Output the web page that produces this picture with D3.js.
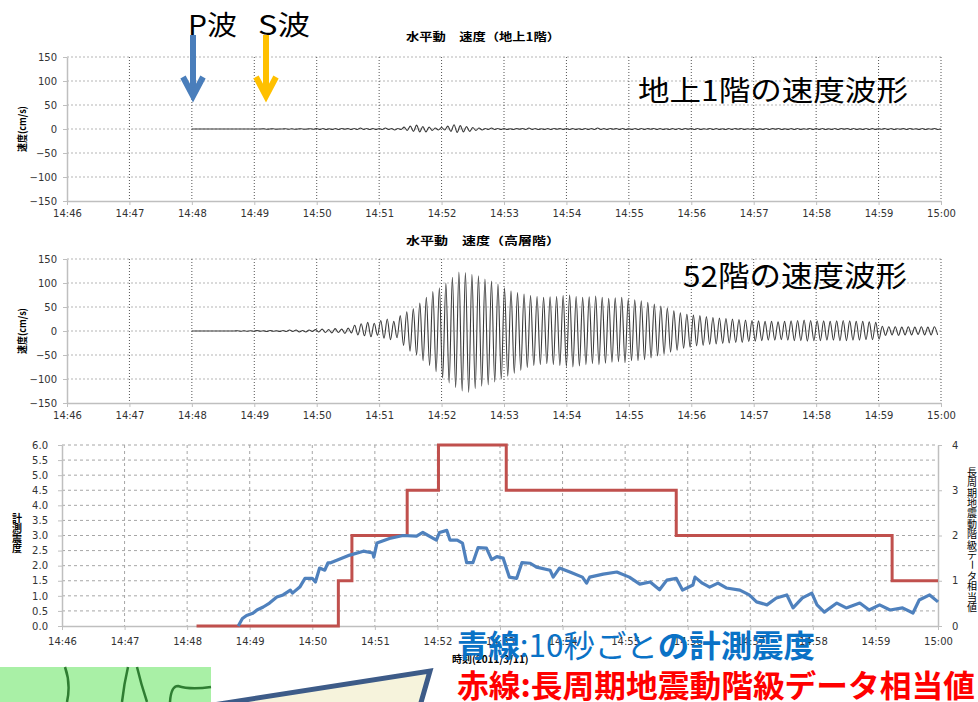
<!DOCTYPE html>
<html>
<head>
<meta charset="utf-8">
<script src="https://cdn.jsdelivr.net/npm/d3@7"></script>
<style>
  body { margin: 0; background: #fff; }
  svg { display: block; font-family: "DejaVu Sans", sans-serif; }
  .jp { font-family: "Noto Sans CJK JP", sans-serif; }
</style>
</head>
<body>
<svg id="chart" width="978" height="702"></svg>
<script>
// ---------- data ----------
const day = '2011-03-11';
const velTicks = [-150, -100, -50, 0, 50, 100, 150];

// 1F horizontal velocity (cm/s), one sample every 3 s from 14:48:00
const vel1FStart = '14:48:00';
const vel1FStep = 3;
const vel1F = [
  0, 0, 0, 0, 0, 0, 0, 0, 0, 0, 0, 0, 0, 0, 0, 0, 0, 0, 0, 0,
  0, 0, 0, 0.5, -0.5, 0, 0.5, -0.5, 0, 0, 0.5, -0.5, 0.5, -0.5, 0, 0.5, -0.5, 0, 0.5, -0.5,
  1, -1, 1, -1, 0.5, -1, 1, -1, 1, -0.5, 1, -1, 1, -1, 2, -1, 1, -1, 1, -1,
  1, -1, 2, -1, 1, -2, 1, -1, 4, -3, 6, -5, 8, -6, 5, -6, 4, -3, 2, -2,
  3, -2, 6, -5, 9, -7, 7, -6, 5, -5, 3, -3, 2, -2, 1, -1, 2, -1, 1, -1,
  1, -1, 0.5, -1, 1, -0.5, 1, -1, 2, -1, 1, -1, 0.5, -1, 1, -1, 1, -0.5, 1, -1,
  1, -1, 1, -1, 0.5, -1, 1, -1, 1, -1, 2, -1, 1, -1, 1, -0.5, 1, -1, 1, -1,
  0.5, -1, 1, -1, 1, -1, 1, -0.5, 1, -1, 1, -1, 0.5, -1, 1, -1, 1, -1, 1, -0.5,
  1, -1, 1, -1, 0.5, -0.5, 1, -1, 1, -1, 0.5, -1, 1, -1, 1, -0.5, 1, -1, 0.5, -0.5,
  1, -1, 0.5, -1, 1, -1, 1, -0.5, 1, -1, 0.5, -1, 1, -1, 1, -1, 0.5, -0.5, 1, -1,
  1, -1, 1, -1, 0.5, -1, 1, -1, 1, -0.5, 1, -1, 1, -1, 0.5, -1, 1, -1, 1, -1,
  0.5, -0.5, 1, -1, 1, -1, 0.5, -0.5, 1, -1, 1, -0.5, 0.5, -1, 1, -1, 0.5, -0.5, 1, -1,
  0
];

// 52F horizontal velocity (cm/s), peaks and troughs, one every 3.13 s from 14:48:00
const vel52Start = '14:48:00';
const vel52Step = 3.13;
const vel52 = [
  0, 0, 0, 0, 0, 0, 0, 0, 0, 0, 0, 0, 0, 0, 0.5, -0.5, 0.5, -0.5, 0.5, -0.5, 1, -0.5, 0.5, -1, 1, -0.5, 0.5, -1,
  1, -1, 2, -1, 2, -2, 1, -2, 2, -1,
  3, -2, 4, -3, 3, -4, 5, -3, 4, -5, 6, -4,
  12, -8, 15, -10, 18, -12, 16, -9,
  22, -15, 25, -18, 20, -14,
  32, -30, 40, -42, 46, -50,
  58, -62, 70, -72, 82, -85, 90, -98,
  100, -108, 112, -118, 123, -125, 122, -128, 118, -120,
  115, -115, 108, -112, 104, -106, 98, -100, 90, -94,
  84, -88, 80, -82, 77, -76, 74, -72, 72, -70,
  70, -68, 71, -70, 72, -72, 74, -74, 75, -75, 72, -73, 70, -70, 71, -68, 73, -70, 70, -67, 68, -65, 69, -64, 70, -66, 66, -62,
  65, -62, 63, -60, 60, -56, 56, -52, 52, -48,
  48, -44, 42, -40, 38, -36, 35, -34, 33, -31,
  32, -30, 30, -28, 28, -27, 27, -26, 26, -25, 25, -24, 24, -24, 23, -22, 22, -21,
  21, -20, 20, -19, 20, -19, 19, -18, 20, -19, 21, -20, 22, -20, 23, -21, 22, -20, 21, -20,
  21, -19, 20, -19, 21, -20, 22, -20, 21, -19, 20, -19, 20, -18, 19, -18, 18, -17,
  10, -9, 9, -8, 9, -9, 8, -8, 9, -8, 8, -7, 9, -8, 8, -8, 9, -8
];

// measured seismic intensity (10 s values): seconds after 14:46:00, value
const intensitySec = [
  169, 173, 177, 183, 187, 193, 199, 206, 212, 219, 221, 228, 233, 240, 243, 247, 252, 255,
  257, 276, 289, 298, 299, 302, 314, 327, 340, 346, 359, 362, 369, 372, 379, 384, 388, 394,
  399, 407, 412, 417, 423, 429, 436, 441, 449, 455, 468, 471, 477, 487, 499, 503, 506, 519,
  532, 544, 554, 564, 573, 580, 589, 595, 605, 607, 614, 621, 629, 637, 650, 659, 666, 676,
  685, 695, 701, 710, 719, 724, 731, 743, 752, 765, 774, 784, 794, 806, 816, 822, 832, 840
];
const intensityValues = [
  0, 0.25, 0.35, 0.42, 0.53, 0.63, 0.76, 0.96, 1.03, 1.19, 1.09, 1.29, 1.58, 1.58, 1.46, 1.92, 1.85, 2.09,
  2.09, 2.35, 2.48, 2.42, 2.28, 2.75, 2.9, 3.0, 2.98, 3.1, 2.85, 3.1, 3.17, 2.85, 2.85, 2.75, 2.1, 2.1,
  2.6, 2.58, 2.2, 2.3, 2.25, 1.62, 1.58, 2.1, 2.08, 1.95, 1.85, 1.62, 1.92, 1.79, 1.62, 1.42, 1.62, 1.72,
  1.79, 1.62, 1.39, 1.46, 1.2, 1.52, 1.58, 1.19, 1.36, 1.62, 1.42, 1.29, 1.42, 1.26, 1.19, 1.03, 0.8, 0.7,
  0.93, 1.03, 0.6, 0.93, 1.09, 0.7, 0.46, 0.76, 0.6, 0.76, 0.53, 0.7, 0.53, 0.6, 0.43, 0.86, 1.03, 0.8
];

// long-period ground motion class (right axis)
const levelTimes = ['14:48:09', '14:50:25', '14:50:38', '14:51:31', '14:52:01', '14:53:06', '14:55:49', '14:59:16', '15:00:00'];
const levelValues = [0, 1, 2, 3, 4, 3, 2, 1, 1];

const intensityTicks = [0, 0.5, 1, 1.5, 2, 2.5, 3, 3.5, 4, 4.5, 5, 5.5, 6];
const levelTicks = [0, 1, 2, 3, 4];

// ---------- helpers ----------
const parseTime = t => new Date(`${day}T${t}`);
const t0 = parseTime('14:46:00');
const t1 = parseTime('15:00:00');
const addSec = (d, s) => new Date(d.getTime() + s * 1000);
const fmt = d3.timeFormat('%H:%M');

const svg = d3.select('#chart');

function styleAxis(sel) {
  sel.attr('font-family', '"DejaVu Sans", sans-serif').attr('font-size', 10);
  sel.select('.domain').attr('stroke', '#bfbfbf').attr('stroke-width', 1.5);
  sel.selectAll('.tick line').attr('stroke', '#bfbfbf');
  sel.selectAll('.tick text').attr('fill', '#333');
}

// stacked (vertical) Japanese text, one glyph per line
function verticalText(g, str, x, yTop, step, size, weight) {
  const t = g.append('g').attr('class', 'jp')
    .style('font-size', size + 'px').style('font-weight', weight);
  Array.from(str).forEach((ch, i) => {
    const cy = yTop + step * (i + 0.5);
    const el = t.append('text')
      .attr('x', x).attr('y', cy)
      .attr('text-anchor', 'middle').attr('dominant-baseline', 'central')
      .text(ch);
    if (ch === 'ー') el.attr('transform', `rotate(90,${x},${cy})`);
  });
}

// ---------- velocity charts ----------
function velocityChart(cfg) {
  const left = 67, right = 941;
  const x = d3.scaleTime().domain([t0, t1]).range([left, right]);
  const y = d3.scaleLinear().domain([-150, 150]).range([cfg.bottom, cfg.top]);
  const g = svg.append('g');

  g.selectAll('.hgrid')
    .data(velTicks.filter(v => v > -150))
    .enter().append('line')
    .attr('x1', left).attr('x2', right)
    .attr('y1', d => y(d)).attr('y2', d => y(d))
    .attr('stroke', '#b5b5b5').attr('stroke-dasharray', '2,2');

  const minutes = d3.timeMinute.range(d3.timeMinute.offset(t0, 1), d3.timeMinute.offset(t1, 1));
  g.selectAll('.vgrid')
    .data(minutes)
    .enter().append('line')
    .attr('x1', d => x(d)).attr('x2', d => x(d))
    .attr('y1', cfg.top).attr('y2', cfg.bottom)
    .attr('stroke', '#555').attr('stroke-dasharray', '1,2');

  g.append('g')
    .attr('transform', `translate(0,${cfg.bottom})`)
    .call(d3.axisBottom(x).ticks(d3.timeMinute.every(1)).tickFormat(fmt).tickSize(4).tickSizeOuter(0).tickPadding(5))
    .call(styleAxis);

  g.append('g')
    .attr('transform', `translate(${left},0)`)
    .call(d3.axisLeft(y).tickValues(velTicks).tickSize(4).tickSizeOuter(0).tickPadding(6))
    .call(styleAxis);

  const start = parseTime(cfg.start);
  const pts = cfg.values.map((v, i) => ({ t: addSec(start, i * cfg.step), v }));
  g.append('path')
    .datum(pts)
    .attr('d', d3.line().x(d => x(d.t)).y(d => y(d.v)).curve(d3.curveMonotoneX))
    .attr('fill', 'none')
    .attr('stroke', '#3a3a3a')
    .attr('stroke-width', 1.1);

  g.append('text').attr('class', 'jp')
    .attr('x', 406).attr('y', cfg.titleY)
    .attr('textLength', 154).attr('lengthAdjust', 'spacingAndGlyphs')
    .style('font-size', '11px').style('font-weight', 'bold')
    .text(cfg.title);

  g.append('text').attr('class', 'jp')
    .attr('transform', `translate(26,${(cfg.top + cfg.bottom) / 2}) rotate(-90)`)
    .attr('text-anchor', 'middle')
    .attr('textLength', 46).attr('lengthAdjust', 'spacingAndGlyphs')
    .style('font-size', '10px').style('font-weight', 'bold')
    .text('速度(cm/s)');
}

velocityChart({ top: 57, bottom: 201, titleY: 41, title: '水平動　速度（地上1階）', values: vel1F, start: vel1FStart, step: vel1FStep });
velocityChart({ top: 259, bottom: 403, titleY: 245, title: '水平動　速度（高層階）', values: vel52, start: vel52Start, step: vel52Step });

// ---------- intensity chart ----------
{
  const left = 62, right = 938, top = 445, bottom = 626;
  const x = d3.scaleTime().domain([t0, t1]).range([left, right]);
  const y = d3.scaleLinear().domain([0, 6]).range([bottom, top]);
  const y2 = d3.scaleLinear().domain([0, 4]).range([bottom, top]);
  const g = svg.append('g');

  g.selectAll('.hgrid')
    .data(intensityTicks.filter(v => v > 0))
    .enter().append('line')
    .attr('x1', left).attr('x2', right)
    .attr('y1', d => y(d)).attr('y2', d => y(d))
    .attr('stroke', '#a6a6a6').attr('stroke-dasharray', '3,3');

  const minutes = d3.timeMinute.range(d3.timeMinute.offset(t0, 1), t1);
  g.selectAll('.vgrid')
    .data(minutes)
    .enter().append('line')
    .attr('x1', d => x(d)).attr('x2', d => x(d))
    .attr('y1', top).attr('y2', bottom)
    .attr('stroke', '#a6a6a6').attr('stroke-dasharray', '3,3');

  g.append('g')
    .attr('transform', `translate(0,${bottom})`)
    .call(d3.axisBottom(x).ticks(d3.timeMinute.every(1)).tickFormat(fmt).tickSize(4).tickSizeOuter(0).tickPadding(8))
    .call(styleAxis);
  g.append('g')
    .attr('transform', `translate(${left},0)`)
    .call(d3.axisLeft(y).tickValues(intensityTicks).tickFormat(d3.format('.1f')).tickSize(4).tickSizeOuter(0).tickPadding(10))
    .call(styleAxis);
  g.append('g')
    .attr('transform', `translate(${right},0)`)
    .call(d3.axisRight(y2).tickValues(levelTicks).tickFormat(d3.format('d')).tickSize(4).tickSizeOuter(0).tickPadding(10))
    .call(styleAxis);

  const levelPts = levelTimes.map((t, i) => ({ t: parseTime(t), v: levelValues[i] }));
  g.append('path')
    .datum(levelPts)
    .attr('d', d3.line().x(d => x(d.t)).y(d => y2(d.v)).curve(d3.curveStepAfter))
    .attr('fill', 'none').attr('stroke', '#c0504d').attr('stroke-width', 3);

  const intPts = intensitySec.map((s, i) => ({ t: addSec(t0, s), v: intensityValues[i] }));
  g.append('path')
    .datum(intPts)
    .attr('d', d3.line().x(d => x(d.t)).y(d => y(d.v)))
    .attr('fill', 'none').attr('stroke', '#4f81bd').attr('stroke-width', 3.2)
    .attr('stroke-linejoin', 'round');

  verticalText(g, '計測震度', 17, 512, 10, 10, 'bold');
  verticalText(g, '長周期地震動階級データ相当値', 972, 466, 10.4, 10, 'normal');

  g.append('text').attr('class', 'jp')
    .attr('x', 452).attr('y', 663)
    .style('font-size', '10px').style('font-weight', 'bold')
    .text('時刻(2011/3/11)');
}

// ---------- annotations ----------
const ann = svg.append('g').attr('class', 'jp');

function arrow(x, color) {
  ann.append('line').attr('x1', x).attr('x2', x).attr('y1', 35).attr('y2', 95)
    .attr('stroke', color).attr('stroke-width', 6);
  ann.append('polyline')
    .attr('points', `${x - 10},77 ${x},96 ${x + 10},77`)
    .attr('fill', 'none').attr('stroke', color).attr('stroke-width', 6)
    .attr('stroke-linejoin', 'miter');
}
arrow(193, '#4a7ebb');
arrow(266, '#ffc000');

const bigText = (txt, x, y, len, size) =>
  ann.append('text').attr('x', x).attr('y', y)
    .attr('textLength', len).attr('lengthAdjust', 'spacingAndGlyphs')
    .style('font-size', size + 'px').attr('fill', '#000').text(txt);

bigText('P波', 188, 35, 49, 27);
bigText('S波', 258, 35, 52, 27);
bigText('地上1階の速度波形', 638, 101, 270, 28);
bigText('52階の速度波形', 683, 287, 224, 29);

// bottom-left decorations
ann.append('rect').attr('x', 0).attr('y', 667).attr('width', 211).attr('height', 36).attr('fill', '#a9f0a6');
[
  'M65,667 Q71,684 67,702',
  'M128,667 Q124,684 122,702',
  'M137,667 Q141,684 147,702',
  'M170,702 Q171,686 178,686 Q190,690 211,687'
].forEach(p => ann.append('path').attr('d', p).attr('fill', 'none').attr('stroke', '#2f7d32').attr('stroke-width', 2.5));

ann.append('polygon')
  .attr('points', '213,705 430,671 420,706')
  .attr('fill', '#f6f3dc').attr('stroke', '#3d5b88').attr('stroke-width', 5);

// legend texts
const blue = ann.append('text').attr('x', 457).attr('y', 657)
  .attr('textLength', 358).attr('lengthAdjust', 'spacingAndGlyphs')
  .style('font-size', '31px').attr('fill', '#0a72c6');
blue.append('tspan').style('font-weight', 'bold').text('青線');
blue.append('tspan').text(':10秒ごと');
blue.append('tspan').style('font-weight', 'bold').text('の計測震度');

const red = ann.append('text').attr('x', 457).attr('y', 697)
  .attr('textLength', 518).attr('lengthAdjust', 'spacingAndGlyphs')
  .style('font-size', '31px').attr('fill', '#ff0000').style('font-weight', 'bold');
red.append('tspan').text('赤線');
red.append('tspan').text(':長周期地震動階級データ相当値');
</script>
</body>
</html>
